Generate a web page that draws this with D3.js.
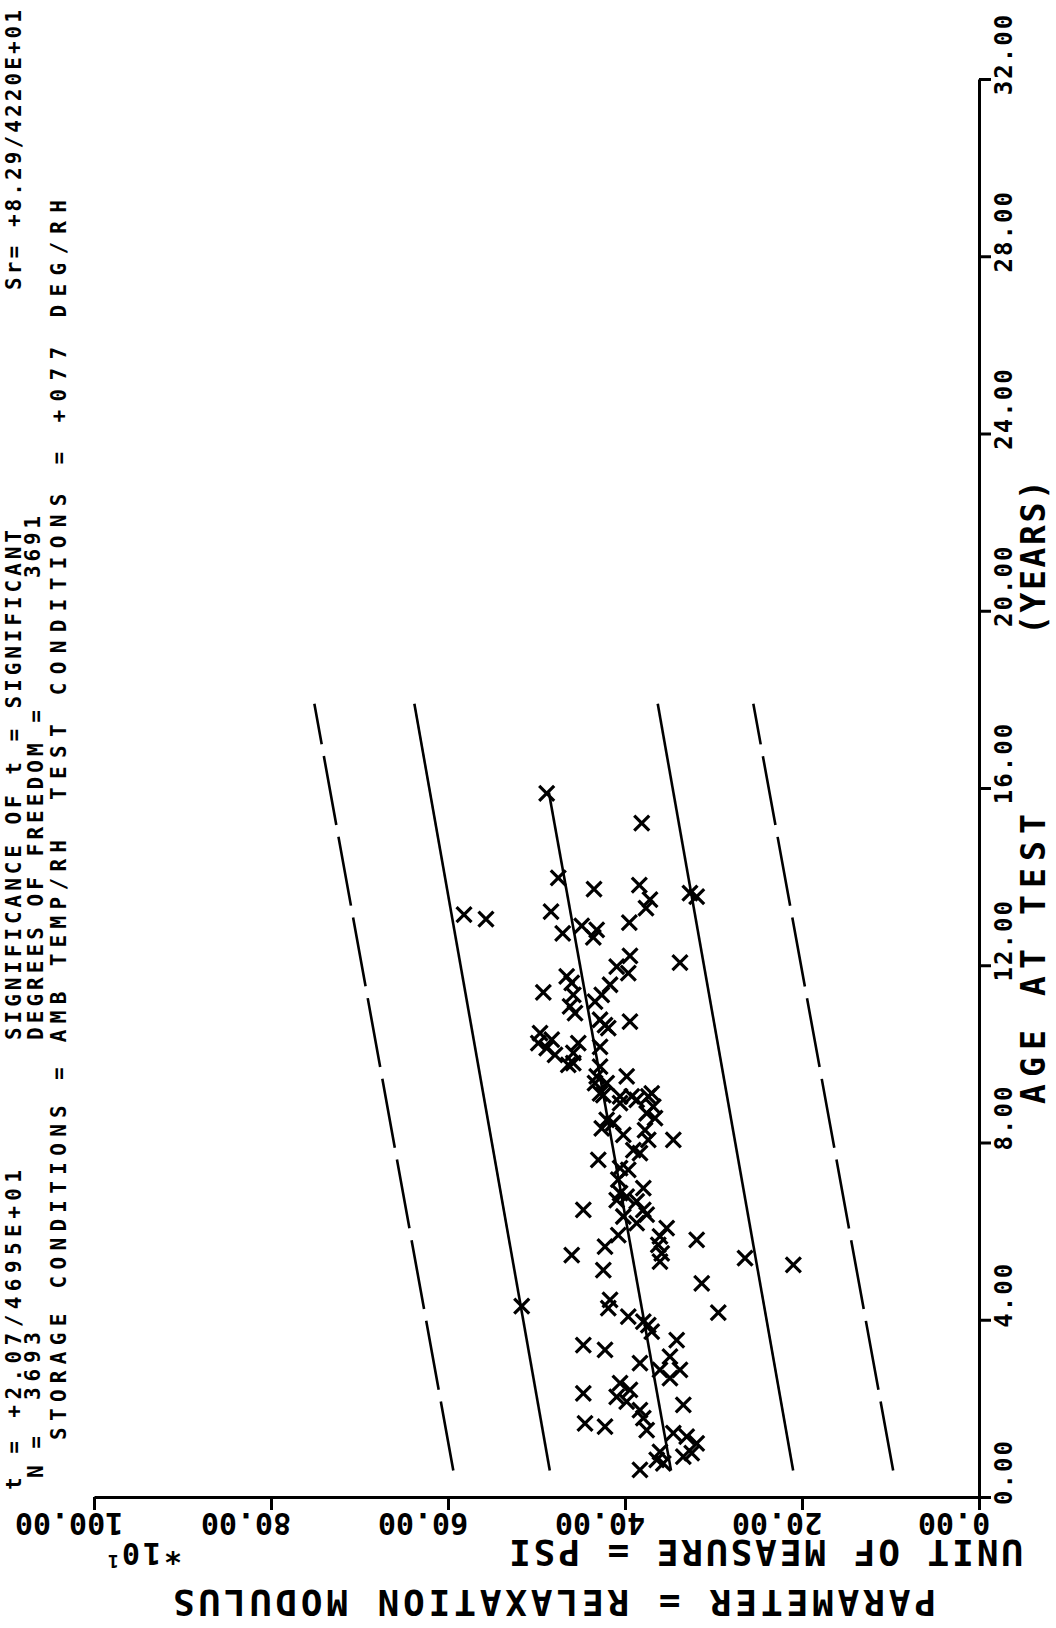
<!DOCTYPE html>
<html>
<head>
<meta charset="utf-8">
<script src="https://cdn.jsdelivr.net/npm/d3@7"></script>
<style>
  body { margin: 0; background: #fff; }
  svg { display: block; background: #fff; }
  text { font-family: "DejaVu Sans Mono", monospace; font-weight: bold; fill: #000; }
</style>
</head>
<body>
<div id="chart"></div>
<script>
// age at test (years) of each sample
const ageYears = [15.88, 15.21, 13.97, 13.72, 13.81, 13.48, 13.29, 13.63, 13.55, 13.14,
    13.04, 13.21, 12.72, 12.89, 12.80, 12.63, 12.96, 12.06, 12.21, 11.97,
    11.82, 11.56, 11.33, 11.18, 11.75, 11.60, 11.33, 11.07, 10.92, 11.39,
    10.77, 10.65, 10.58, 10.73, 10.47, 10.32, 10.24, 10.13, 9.98, 10.24,
    10.02, 9.75, 9.79, 10.16, 9.71, 9.49, 9.34, 9.34, 9.49, 9.11,
    9.04, 9.04, 9.11, 9.07, 8.89, 8.96, 9.04, 8.81, 8.66, 8.55,
    8.51, 8.44, 8.32, 8.17, 8.28, 8.06, 8.06, 7.83, 7.76, 7.61,
    7.42, 7.38, 7.16, 6.97, 6.86, 6.78, 6.70, 6.67, 6.48, 6.48,
    6.33, 6.37, 6.18, 5.91, 6.07, 5.88, 5.69, 5.80, 5.65, 5.46,
    5.50, 5.31, 5.39, 5.24, 5.12, 4.82, 4.45, 4.26, 4.31, 4.16,
    4.07, 3.88, 3.73, 3.96, 3.43, 3.32, 3.54, 3.17, 3.02, 2.87,
    2.87, 2.68, 2.57, 2.42, 2.26, 2.15, 1.96, 1.78, 2.34, 2.08,
    1.66, 1.59, 1.51, 1.44, 1.36, 1.21, 0.99, 0.91, 1.02, 0.84, 0.76, 0.61]

// relaxation modulus, psi x10 (same order as ageYears)
const psiValues = [48.85, 38.11, 47.54, 43.50, 38.38, 37.18, 37.63, 32.66, 31.90, 58.19,
    55.71, 48.36, 47.04, 44.89, 43.20, 43.58, 39.51, 33.79, 39.44, 40.94,
    39.63, 41.69, 42.63, 43.39, 46.59, 46.02, 45.84, 46.21, 45.65, 49.23,
    42.82, 42.26, 41.89, 39.44, 49.60, 48.28, 49.80, 48.85, 47.91, 45.28,
    45.84, 46.41, 45.84, 42.82, 42.82, 43.20, 43.39, 42.07, 39.81, 42.82,
    40.56, 39.24, 36.98, 42.45, 40.56, 38.68, 37.37, 36.80, 37.55, 36.61,
    42.07, 41.32, 42.63, 40.19, 37.74, 37.37, 34.54, 39.06, 38.31, 43.02,
    40.56, 39.63, 40.76, 37.93, 40.56, 39.81, 40.94, 38.68, 37.93, 44.71,
    40.19, 37.55, 38.68, 40.76, 35.29, 36.05, 36.24, 31.90, 42.26, 46.02,
    35.85, 36.05, 26.44, 20.98, 42.45, 31.33, 41.69, 41.89, 51.67, 29.46,
    39.63, 37.37, 36.98, 37.93, 44.71, 42.26, 34.16, 34.92, 38.31, 36.05,
    33.79, 34.92, 40.56, 39.44, 40.94, 39.81, 38.31, 37.93, 44.71, 33.41,
    44.52, 42.26, 37.55, 34.54, 33.03, 31.90, 32.46, 33.41, 36.05, 36.42, 35.67, 38.31]

// regression line and limit lines, [age, psi] end points
const fitLine = [[0.6, 34.8], [15.9, 48.6]]
const upperLimit = [[0.6, 48.5], [17.9, 63.8]]
const lowerLimit = [[0.6, 21.0], [17.9, 36.3]]
const upperOuter = [[0.6, 59.4], [17.9, 75.1]]
const lowerOuter = [[0.6, 9.7], [17.9, 25.5]]

const ageTicks = [0, 4, 8, 12, 16, 20, 24, 28, 32]
const psiTicks = [0, 20, 40, 60, 80, 100]

const W = 1056, H = 1628

let svg = d3.select("#chart")
    .append("svg")
    .attr("width", W)
    .attr("height", H)

svg.append("rect").attr("width", W).attr("height", H).attr("fill", "#fff")

// the whole plot is printed turned a quarter turn: age runs up the right side,
// psi runs right-to-left along the bottom
let yAge = d3.scaleLinear().domain([0, 32]).range([1497, 79])
let xPsi = d3.scaleLinear().domain([0, 100]).range([979, 94])
let fmt = d3.format(".2f")

let ageAxis = svg.append("g")
    .attr("transform", "translate(979,0)")
    .call(d3.axisRight(yAge).tickValues(ageTicks).tickSize(12).tickSizeOuter(0).tickFormat(""))

let psiAxis = svg.append("g")
    .attr("transform", "translate(0,1497)")
    .call(d3.axisBottom(xPsi).tickValues(psiTicks).tickSize(13).tickSizeOuter(0).tickFormat(""))

svg.selectAll(".domain, .tick line")
    .attr("stroke", "#000")
    .attr("stroke-width", 3)

// tick labels
svg.append("g")
    .selectAll("text")
    .data(ageTicks)
    .enter()
    .append("text")
    .attr("transform", d => `translate(1012,${yAge(d) - 25}) rotate(-90)`)
    .attr("text-anchor", "middle")
    .attr("font-size", 24)
    .attr("letter-spacing", 2)
    .text(d => fmt(d))

svg.append("g")
    .selectAll("text")
    .data(psiTicks)
    .enter()
    .append("text")
    .attr("transform", d => `translate(${xPsi(d) - 25},1513) rotate(180)`)
    .attr("text-anchor", "middle")
    .attr("font-size", 30)
    .text(d => fmt(d))

let scaleNote = svg.append("text")
    .attr("transform", "translate(182,1543) rotate(180)")
    .attr("font-size", 30)
    .attr("letter-spacing", 3)
scaleNote.append("tspan").text("*10")
scaleNote.append("tspan").attr("font-size", 18).attr("dy", -12).text("1")

// text helpers: up = reads bottom to top, flip = upside down
function upText(x, y, str, size, len) {
    let t = svg.append("text")
        .attr("transform", `translate(${x},${y}) rotate(-90)`)
        .attr("font-size", size)
        .text(str)
    if (len) t.attr("textLength", len).attr("lengthAdjust", "spacing")
    return t
}
function flipText(x, y, str, size, len) {
    let t = svg.append("text")
        .attr("transform", `translate(${x},${y}) rotate(180)`)
        .attr("font-size", size)
        .text(str)
    if (len) t.attr("textLength", len).attr("lengthAdjust", "spacing")
    return t
}

// axis titles
upText(1045, 1104, "AGE AT TEST", 33, 290)
upText(1045, 635, "(YEARS)", 33, 155)

flipText(1023, 1540, "UNIT OF MEASURE = PSI", 36, 514)
flipText(936, 1590, "PARAMETER = RELAXATION MODULUS", 36, 763)

// header block (printed along the left edge)
upText(21, 1490, "t = +2.07/4695E+01", 21, 320)
upText(21, 1040, "SIGNIFICANCE OF t = SIGNIFICANT", 21, 510)
upText(21, 290, "Sr= +8.29/4220E+01", 21, 280)
upText(43, 1478, "N =", 21, 42)
upText(40, 1400, "3693", 21, 68)
upText(43, 1040, "DEGREES OF FREEDOM =", 21, 330)
upText(40, 578, "3691", 21, 62)
upText(66, 1440, "STORAGE CONDITIONS = AMB TEMP/RH", 21, 600)
upText(66, 800, "TEST CONDITIONS = +077 DEG/RH", 21, 600)

// lines
let line = d3.line()
    .x(d => xPsi(d[1]))
    .y(d => yAge(d[0]))

let lines = [
    { pts: fitLine, dash: null },
    { pts: upperLimit, dash: null },
    { pts: lowerLimit, dash: null },
    { pts: upperOuter, dash: "70,12" },
    { pts: lowerOuter, dash: "70,12" }
]

svg.append("g")
    .selectAll("path")
    .data(lines)
    .enter()
    .append("path")
    .attr("d", d => line(d.pts))
    .attr("fill", "none")
    .attr("stroke", "#000")
    .attr("stroke-width", 2.6)
    .attr("stroke-dasharray", d => d.dash)

// data points drawn as X marks
let points = ageYears.map((a, i) => ({ age: a, psi: psiValues[i] }))

svg.append("g")
    .selectAll("path")
    .data(points)
    .enter()
    .append("path")
    .attr("transform", d => `translate(${xPsi(d.psi)},${yAge(d.age)})`)
    .attr("d", "M-7.5,-7.5L7.5,7.5M-7.5,7.5L7.5,-7.5")
    .attr("fill", "none")
    .attr("stroke", "#000")
    .attr("stroke-width", 3.2)
</script>
</body>
</html>
